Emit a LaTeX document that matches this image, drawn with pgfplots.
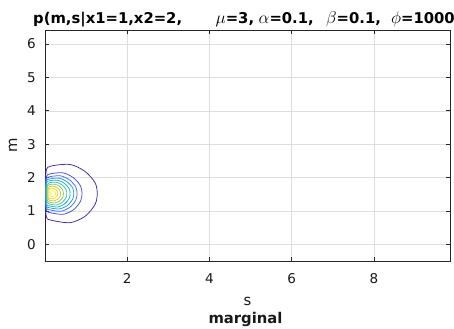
\documentclass[border=0pt]{standalone}
\usepackage{pgfplots}
\pgfplotsset{compat=1.18}
\usepackage{fontspec}
\setmainfont{DejaVu Sans}
\definecolor{c1}{rgb}{0.2422,0.1504,0.6603}
\definecolor{c2}{rgb}{0.272,0.285,0.892}
\definecolor{c3}{rgb}{0.224,0.437,0.963}
\definecolor{c4}{rgb}{0.142,0.584,0.925}
\definecolor{c5}{rgb}{0.085,0.705,0.812}
\definecolor{c6}{rgb}{0.200,0.774,0.620}
\definecolor{c7}{rgb}{0.520,0.781,0.346}
\definecolor{c8}{rgb}{0.816,0.774,0.221}
\definecolor{c9}{rgb}{0.992,0.814,0.189}
\definecolor{c10}{rgb}{0.9769,0.9839,0.0805}
\newcommand{\gk}[1]{{\fontsize{16.5bp}{17bp}\selectfont$#1$}}
\begin{document}
\begin{tikzpicture}
\useasboundingbox (-45bp,-68bp) rectangle (409bp,261bp);
\begin{axis}[
  at={(0,0)}, anchor=south west, scale only axis,
  width=405bp, height=231bp,
  xmin=0, xmax=9.85, ymin=-0.5, ymax=6.42,
  xtick={2,4,6,8}, ytick={0,1,2,3,4,5,6},
  tick align=inside, major tick length=4bp,
  xtick pos=both, ytick pos=both,
  grid=major, grid style={color=black!13, line width=0.5bp},
  axis line style={color=black!85, line width=0.8bp},
  every tick/.style={color=black!85, line width=0.8bp},
  tick label style={font=\fontsize{13.5bp}{16bp}\selectfont, color=black!90, inner sep=0pt},
  xticklabel style={anchor=north, yshift=-12bp},
  yticklabel style={anchor=east, xshift=-9bp},
  /pgf/number format/assume math mode=true,
  xlabel={s}, ylabel={m},
  label style={font=\fontsize{14.8bp}{17bp}\selectfont, color=black!90, inner sep=0pt},
  xlabel style={at={(axis description cs:0.5,0)}, anchor=base, yshift=-44bp},
  ylabel style={at={(axis description cs:0,0.5)}, anchor=center, yshift=32bp},
  every axis plot/.append style={line width=0.75bp, smooth},
]
\addplot[c1] coordinates {(0.01,1.52) (0.03,2.207) (0.161,2.347) (0.615,2.39) (0.977,2.181) (1.219,1.842) (1.27,1.52) (1.219,1.198) (0.977,0.841) (0.615,0.65) (0.161,0.720) (0.03,0.841) (0.01,1.52)};
\addplot[c2] coordinates {(0.013,1.52) (0.03,2.010) (0.122,2.109) (0.441,2.14) (0.695,1.991) (0.864,1.749) (0.90,1.52) (0.864,1.291) (0.695,1.036) (0.441,0.90) (0.122,0.950) (0.03,1.036) (0.013,1.52)};
\addplot[c3] coordinates {(0.015,1.52) (0.03,1.939) (0.110,2.024) (0.384,2.05) (0.603,1.923) (0.749,1.716) (0.78,1.52) (0.749,1.324) (0.603,1.107) (0.384,0.99) (0.110,1.032) (0.03,1.107) (0.015,1.52)};
\addplot[c4] coordinates {(0.017,1.52) (0.03,1.883) (0.101,1.957) (0.346,1.98) (0.542,1.870) (0.673,1.690) (0.70,1.52) (0.673,1.350) (0.542,1.161) (0.346,1.06) (0.101,1.097) (0.03,1.161) (0.017,1.52)};
\addplot[c5] coordinates {(0.029,1.52) (0.04,1.836) (0.100,1.90) (0.309,1.92) (0.475,1.824) (0.587,1.668) (0.61,1.52) (0.587,1.372) (0.475,1.208) (0.309,1.12) (0.100,1.152) (0.04,1.208) (0.029,1.52)};
\addplot[c6] coordinates {(0.040,1.52) (0.05,1.789) (0.101,1.843) (0.277,1.86) (0.417,1.778) (0.510,1.646) (0.53,1.52) (0.510,1.394) (0.417,1.255) (0.277,1.18) (0.101,1.207) (0.05,1.255) (0.040,1.52)};
\addplot[c7] coordinates {(0.052,1.52) (0.06,1.741) (0.101,1.786) (0.244,1.80) (0.358,1.733) (0.434,1.624) (0.45,1.52) (0.434,1.416) (0.358,1.302) (0.244,1.24) (0.101,1.262) (0.06,1.302) (0.052,1.52)};
\addplot[c8] coordinates {(0.074,1.52) (0.08,1.694) (0.112,1.729) (0.222,1.74) (0.309,1.687) (0.368,1.601) (0.38,1.52) (0.368,1.439) (0.309,1.348) (0.222,1.30) (0.112,1.318) (0.08,1.348) (0.074,1.52)};
\addplot[c9] coordinates {(0.096,1.52) (0.10,1.646) (0.122,1.672) (0.199,1.68) (0.260,1.642) (0.301,1.579) (0.31,1.52) (0.301,1.461) (0.260,1.395) (0.199,1.36) (0.122,1.373) (0.10,1.395) (0.096,1.52)};
\addplot[c10] coordinates {(0.138,1.52) (0.14,1.591) (0.153,1.606) (0.197,1.61) (0.232,1.588) (0.255,1.553) (0.26,1.52) (0.255,1.487) (0.232,1.450) (0.197,1.43) (0.153,1.437) (0.14,1.450) (0.138,1.52)};
\end{axis}
\node[anchor=base, inner sep=0pt, font=\fontsize{14.8bp}{17bp}\selectfont\bfseries, text=black!90] at (200.5bp,-62bp) {marginal};
\begin{scope}[every node/.style={anchor=base west, inner sep=0pt, font=\fontsize{14.8bp}{17bp}\selectfont\bfseries, text=black}]
\node at (-12bp,237bp) {p(m,s|x1=1,x2=2,};
\node at (170.5bp,237bp) {\gk{\mu}=3,};
\node at (213.5bp,237bp) {\gk{\alpha}=0.1,};
\node at (281bp,237bp) {\gk{\beta}=0.1,};
\node at (346bp,237bp) {\gk{\phi}=1000};
\end{scope}
\end{tikzpicture}
\end{document}
